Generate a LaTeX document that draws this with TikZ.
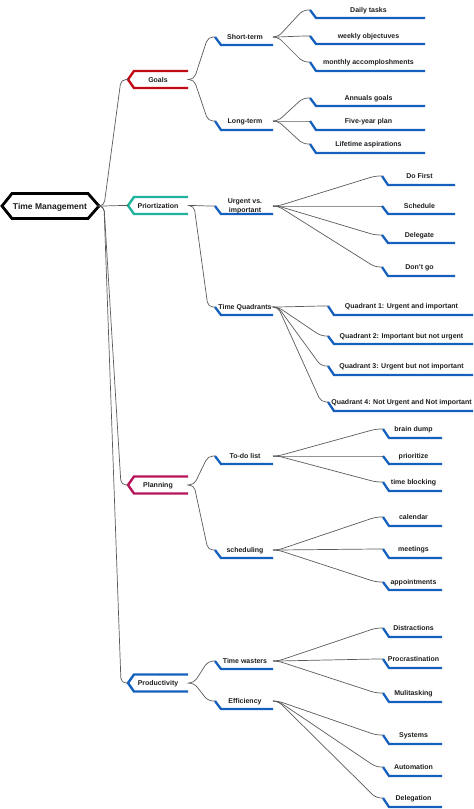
\documentclass[tikz,border=0pt]{standalone}
\usepackage{fontspec}
\setmainfont{Liberation Sans}
\usetikzlibrary{calc}
\definecolor{lblue}{HTML}{1560BD}
\definecolor{lred}{HTML}{C00A14}
\definecolor{lteal}{HTML}{1FB29C}
\definecolor{lmag}{HTML}{B8145A}
\definecolor{ltext}{HTML}{1E1E1E}
\definecolor{lconn}{HTML}{5A5A5A}
\tikzset{
  lbl/.style={font=\fontsize{7}{9}\selectfont\bfseries, text=ltext, inner sep=0pt, align=center, anchor=base},
  leafline/.style={draw=lblue, line width=2.3pt, line join=miter},
  topicline/.style={line width=2.4pt, line join=miter},
  conn/.style={draw=lconn, line width=0.7pt, rounded corners=5pt},
}
% level 1: name, colour, ycentre, text
\newcommand\topicnode[4]{%
  \draw[topicline, draw=#2] (188,{#3-8.5}) -- (134,{#3-8.5}) -- (128,#3) -- (134,{#3+8.5}) -- (188,{#3+8.5});
  \coordinate (#1-in) at (128,#3);
  \coordinate (#1-out) at (190,#3);
  \node[lbl] (#1) at (158,{#3+2.5}) {#4};
}
% level 2: name, ytop, yline, ybase (last line), text
\newcommand\subnode[5]{%
  \draw[leafline] (215,#2) -- (221,#3) -- (273,#3);
  \coordinate (#1-in) at (215,#2);
  \coordinate (#1-out) at (274,#2);
  \node[lbl] (#1) at (245,#4) {#5};
}
% level 3: name, x0, ytop, yline, xend, text
\newcommand\leafnode[6]{%
  \draw[leafline] (#2,#3) -- ({#2+6},#4) -- (#5,#4);
  \coordinate (#1-in) at (#2,#3);
  \node[lbl] (#1) at ({(#2+6+#5)/2-2},{#3+2.3}) {#6};
}
\newcommand\link[2]{%
  \draw[conn] (#1-out) -- ++(4,0) -- ($(#2-in)+(-7,0)$) -- (#2-in);
}
\begin{document}
\begin{tikzpicture}[x=1pt,y=-1pt]
\useasboundingbox (0,0) rectangle (474,809);

% root
\draw[line width=2.8pt, line join=miter, draw=black]
  (2,206) -- (12,193.5) -- (88,193.5) -- (99,206) -- (88,218.5) -- (12,218.5) -- cycle;
\node[lbl, font=\fontsize{8.5}{10}\selectfont\bfseries] (root) at (50,209) {Time Management};
\coordinate (root-out) at (100,206);

% level 1
\topicnode{goals}{lred}{79.5}{Goals}
\topicnode{prior}{lteal}{205.5}{Priortization}
\topicnode{plan}{lmag}{485}{Planning}
\topicnode{prod}{lblue}{683}{Productivity}

% level 2
\subnode{short}{37}{45}{39}{Short-term}
\subnode{long}{121}{130}{123.5}{Long-term}
\subnode{urgent}{206}{214}{212.3}{Urgent vs.\\important}
\subnode{tq}{307}{315}{309}{Time Quadrants}
\subnode{todo}{456}{464}{458}{To-do list}
\subnode{sched}{550}{558}{552}{scheduling}
\subnode{waste}{661}{669}{663}{Time wasters}
\subnode{eff}{701}{709}{703}{Efficiency}

% level 3
\leafnode{daily}{310}{10}{18}{425}{Daily tasks}
\leafnode{weekly}{310}{36}{44}{425}{weekly objectuves}
\leafnode{monthly}{310}{62}{71}{425}{monthly accomploshments}
\leafnode{annual}{310}{98}{106}{425}{Annuals goals}
\leafnode{five}{310}{121}{130}{425}{Five-year plan}
\leafnode{life}{310}{144}{153}{425}{Lifetime aspirations}

\leafnode{dofirst}{382}{176}{185}{455}{Do First}
\leafnode{schedule}{382}{206}{214}{455}{Schedule}
\leafnode{delegate}{382}{235}{243}{455}{Delegate}
\leafnode{dontgo}{382}{267}{276}{455}{Don't go}

\leafnode{qa}{328}{306}{315}{473}{Quadrant 1: Urgent and important}
\leafnode{qb}{328}{336}{344}{473}{Quadrant 2: Important but not urgent}
\leafnode{qc}{328}{366}{375}{473}{Quadrant 3: Urgent but not important}
\leafnode{qd}{328}{402}{411}{473}{Quadrant 4: Not Urgent and Not important}

\leafnode{brain}{383}{429}{438}{442}{brain dump}
\leafnode{prio}{383}{456}{464}{442}{prioritize}
\leafnode{block}{383}{482}{491}{442}{time blocking}
\leafnode{cal}{383}{517}{526}{442}{calendar}
\leafnode{meet}{383}{549}{558}{442}{meetings}
\leafnode{appt}{383}{582}{590}{442}{appointments}

\leafnode{distr}{383}{628}{637}{442}{Distractions}
\leafnode{procr}{383}{659}{668}{442}{Procrastination}
\leafnode{multi}{383}{693}{702}{442}{Mulitasking}
\leafnode{sys}{383}{735}{744}{442}{Systems}
\leafnode{auto}{383}{767}{776}{442}{Automation}
\leafnode{deleg}{383}{798}{807}{442}{Delegation}

% connectors
\link{root}{goals}
\link{root}{prior}
\link{root}{plan}
\link{root}{prod}

\link{goals}{short}
\link{goals}{long}
\link{prior}{urgent}
\link{prior}{tq}
\link{plan}{todo}
\link{plan}{sched}
\link{prod}{waste}
\link{prod}{eff}

\link{short}{daily}
\link{short}{weekly}
\link{short}{monthly}
\link{long}{annual}
\link{long}{five}
\link{long}{life}
\link{urgent}{dofirst}
\link{urgent}{schedule}
\link{urgent}{delegate}
\link{urgent}{dontgo}
\link{tq}{qa}
\link{tq}{qb}
\link{tq}{qc}
\link{tq}{qd}
\link{todo}{brain}
\link{todo}{prio}
\link{todo}{block}
\link{sched}{cal}
\link{sched}{meet}
\link{sched}{appt}
\link{waste}{distr}
\link{waste}{procr}
\link{waste}{multi}
\link{eff}{sys}
\link{eff}{auto}
\link{eff}{deleg}
\end{tikzpicture}
\end{document}
